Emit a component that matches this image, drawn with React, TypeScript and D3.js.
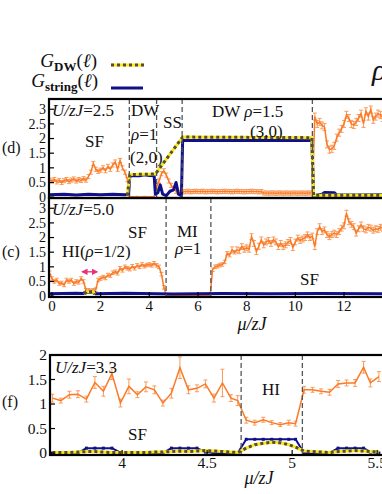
import * as d3 from 'd3';
import { useEffect, useRef } from 'react';

const W = 382;
const H = 494;
const FONT = '"Liberation Serif", "Times New Roman", serif';
const ORANGE = '#fb7a26';
const ORANGE_ERR = '#f99a5a';
const NAVY = '#10108a';
const YELLOW = '#f4ec1a';
const BROWN = '#5e4a2a';

// panels (d) and (c) share one mu grid: mu = -0.1, 0.0, 0.1 ... 13.6
const gridStart = -0.1;
const gridStep = 0.1;

const orangeD = [
  // -0.1 .. 0.9
  0.58, 0.55, 0.6, 0.52, 0.57, 0.5, 0.56, 0.6, 0.53, 0.58, 0.62,
  // 1.0 .. 1.9
  0.55, 0.6, 0.57, 0.63, 0.58, 0.7, 0.85, 1.15, 0.95, 0.88,
  // 2.0 .. 2.9
  0.92, 1.0, 0.9, 1.05, 0.95, 1.1, 1.2, 0.95, 1.25, 1.0,
  // 3.0 .. 3.9
  0.85, 0.6, 0.02, 0.01, 0.01, 0.02, 0.01, 0.01, 0.02, 0.01,
  // 4.0 .. 4.9
  0.01, 0.01, 0.02, 0.35, 0.55, 0.8, 0.9, 0.75, 0.55, 0.4,
  // 5.0 .. 5.9
  0.3, 0.2, 0.15, 0.15, 0.18, 0.19, 0.2, 0.18, 0.19, 0.2,
  // 6.0 .. 6.9
  0.19, 0.19, 0.2, 0.18, 0.19, 0.19, 0.2, 0.19, 0.18, 0.19,
  // 7.0 .. 7.9
  0.19, 0.2, 0.19, 0.19, 0.18, 0.19, 0.2, 0.19, 0.19, 0.18,
  // 8.0 .. 8.9
  0.19, 0.19, 0.2, 0.19, 0.19, 0.18, 0.19, 0.14, 0.14, 0.13,
  // 9.0 .. 9.9
  0.14, 0.14, 0.13, 0.14, 0.14, 0.13, 0.14, 0.14, 0.13, 0.14,
  // 10.0 .. 10.9
  0.14, 0.13, 0.14, 0.14, 0.13, 0.14, 0.14, 0.14, 2.75, 2.5,
  // 11.0 .. 11.9
  2.57, 2.45, 2.39, 1.8, 1.62, 1.65, 1.75, 2.03, 2.2, 2.33,
  // 12.0 .. 12.9
  2.5, 2.81, 2.7, 2.5, 2.46, 2.57, 2.7, 2.85, 2.5, 2.93,
  // 13.0 .. 13.6
  2.75, 2.99, 2.64, 2.75, 2.85, 2.8, 2.7,
];

const orangeC = [
  // -0.1 .. 0.9
  0.8, 0.6, 0.5, 0.55, 0.43, 0.45, 0.38, 0.55, 0.5, 0.55, 0.43,
  // 1.0 .. 1.9
  0.5, 0.47, 0.6, 0.5, 0.2, 0.2, 0.18, 0.2, 0.22, 0.55,
  // 2.0 .. 2.9
  0.6, 0.65, 0.62, 0.72, 0.7, 0.8, 0.83, 0.78, 0.95, 0.88,
  // 3.0 .. 3.9
  1.0, 0.95, 0.92, 1.02, 0.95, 1.05, 1.0, 1.08, 1.02, 1.06,
  // 4.0 .. 4.9
  1.08, 1.05, 1.12, 1.05, 1.0, 0.75, 0.3, 0.01, 0.01, 0.01,
  // 5.0 .. 5.9
  0.01, 0.01, 0.01, 0.01, 0.01, 0.01, 0.01, 0.01, 0.01, 0.01,
  // 6.0 .. 6.9
  0.01, 0.01, 0.01, 0.01, 0.01, 0.01, 0.9, 1.0, 1.02, 1.06,
  // 7.0 .. 7.9
  1.08, 1.17, 1.46, 1.4, 1.58, 1.5, 1.58, 1.55, 1.69, 1.6,
  // 8.0 .. 8.9
  1.65, 1.6, 2.03, 1.8, 1.52, 1.7, 1.92, 1.75, 1.85, 1.9,
  // 9.0 .. 9.9
  1.8, 1.92, 1.85, 1.69, 1.8, 1.69, 1.75, 1.83, 1.9, 1.66,
  // 10.0 .. 10.9
  1.85, 1.98, 1.9, 1.95, 2.0, 2.09, 2.0, 2.05, 1.69, 2.2,
  // 11.0 .. 11.9
  2.37, 2.2, 2.26, 2.1, 2.03, 2.1, 2.15, 2.1, 2.2, 2.32,
  // 12.0 .. 12.9
  2.4, 2.83, 2.54, 2.45, 2.37, 2.15, 2.3, 2.43, 2.3, 2.26,
  // 13.0 .. 13.6
  2.35, 2.32, 2.25, 2.3, 2.28, 2.35, 2.3,
];

// [mu, value]
const blueD: [number, number][] = [
  [-0.12, 0.08], [0.5, 0.1], [1, 0.07], [1.5, 0.1], [2, 0.08], [2.5, 0.1], [3.0, 0.08], [3.15, 0.1],
  [3.2, 0.72], [3.4, 0.74], [3.6, 0.73], [3.8, 0.76], [4.0, 0.74], [4.2, 0.73],
  [4.25, 0.1], [4.35, 0.15], [4.45, 0.42], [4.55, 0.1], [4.7, 0.05], [4.85, 0.2], [5.0, 0.25],
  [5.1, 0.5], [5.2, 0.1], [5.32, 0.05], [5.37, 1.93], [6, 1.93], [7, 1.94], [8, 1.93], [9, 1.93],
  [10, 1.94], [10.68, 1.93], [10.75, 0.05], [11.1, 0.1], [11.2, 0.16], [11.6, 0.15], [11.7, 0.08],
  [12.5, 0.07], [13.6, 0.08],
];
const yellowD: [number, number][] = [
  [3.1, 0.06], [3.2, 0.77], [4.25, 0.79], [5.37, 2.05], [10.68, 2.03], [10.75, 0.06], [13.6, 0.06],
];
const blueC: [number, number][] = [
  [-0.12, 0.08], [1.0, 0.1], [1.3, 0.09], [1.35, 0.13], [1.75, 0.13], [1.8, 0.08], [3, 0.1],
  [5, 0.07], [7, 0.09], [9, 0.08], [11, 0.09], [13.6, 0.08],
];
const yellowC: [number, number][] = [[1.35, 0.06], [1.4, 0.15], [1.7, 0.15], [1.75, 0.06]];

const muF = [
  3.59, 3.64, 3.69, 3.74, 3.79, 3.84, 3.89, 3.94, 3.99, 4.04,
  4.09, 4.14, 4.19, 4.24, 4.29, 4.34, 4.39, 4.44, 4.49, 4.54,
  4.59, 4.64, 4.68, 4.73, 4.78, 4.83, 4.88, 4.93, 4.98, 5.02,
  5.07, 5.12, 5.17, 5.22, 5.27, 5.32, 5.37, 5.42, 5.46, 5.51,
];
const orangeF = [
  1.12, 1.07, 1.19, 1.2, 1.1, 1.44, 1.26, 1.62, 1.02, 1.36,
  1.19, 1.35, 1.29, 1.02, 1.22, 1.74, 1.29, 1.32, 1.41, 1.12,
  1.43, 1.12, 1.07, 0.67, 0.62, 0.68, 0.62, 0.58, 0.62, 0.6,
  1.29, 1.29, 1.26, 1.24, 1.41, 1.43, 1.43, 1.75, 1.43, 1.56,
];
const errF = [
  0.08, 0.05, 0.07, 0.07, 0.06, 0.12, 0.1, 0.12, 0.08, 0.15,
  0.06, 0.1, 0.08, 0.06, 0.1, 0.22, 0.08, 0.07, 0.08, 0.08,
  0.28, 0.07, 0.1, 0.06, 0.05, 0.05, 0.04, 0.04, 0.05, 0.05,
  0.07, 0.05, 0.05, 0.06, 0.07, 0.06, 0.07, 0.12, 0.08, 0.1,
];
const blueF = [
  0, 0, 0, 0, 0.1, 0.1, 0.1, 0.1, 0.01, 0,
  0, 0, 0, 0, 0.1, 0.1, 0.1, 0.1, 0.02, 0,
  0, 0, 0, 0.28, 0.28, 0.28, 0.28, 0.28, 0.28, 0.28,
  0, 0, 0, 0, 0.1, 0.1, 0.1, 0.1, 0.02, 0,
];
const yellowF = [
  0.01, 0.01, 0.01, 0.02, 0.03, 0.03, 0.02, 0.01, 0.01, 0.01,
  0.01, 0.01, 0.02, 0.02, 0.03, 0.04, 0.03, 0.04, 0.05, 0.04,
  0.03, 0.02, 0.01, 0.1, 0.17, 0.2, 0.22, 0.21, 0.17, 0.12,
  0.04, 0.03, 0.02, 0.01, 0.03, 0.04, 0.05, 0.04, 0.03, 0.02,
];

const boundsD = [3.18, 4.3, 5.35, 10.7];
const boundsC = [4.69, 6.53];
const boundsF = [4.7, 5.06];
const yTicksDC = [0, 0.5, 1, 1.5, 2, 2.5, 3];
const yTicksF = [0, 0.5, 1, 1.5, 2];
const xTicksC = [0, 2, 4, 6, 8, 10, 12, 14];
const xTicksF = [4, 4.5, 5, 5.5];

const App = () => {
  const ref = useRef<SVGSVGElement>(null);

  useEffect(() => {
    const svg = d3.select(ref.current);
    svg.selectAll('*').remove();

    const defs = svg.append('defs');
    defs
      .append('marker')
      .attr('id', 'pinkhead')
      .attr('viewBox', '0 0 10 10')
      .attr('refX', 8)
      .attr('refY', 5)
      .attr('markerWidth', 5)
      .attr('markerHeight', 5)
      .attr('orient', 'auto-start-reverse')
      .append('path')
      .attr('d', 'M0,0L10,5L0,10z')
      .style('fill', '#e8337a');

    const panel = (id: string, left: number, right: number, top: number, bottom: number,
      xDom: [number, number], yDom: [number, number]) => {
      const x = d3.scaleLinear().domain(xDom).range([left, right]);
      const y = d3.scaleLinear().domain(yDom).range([bottom, top]);
      defs.append('clipPath').attr('id', id).append('rect')
        .attr('x', left).attr('y', top).attr('width', right - left).attr('height', bottom - top);
      const g = svg.append('g').attr('clip-path', `url(#${id})`);
      return { x, y, g, left, right, top, bottom };
    };

    const text = (x: number, y: number, size: number, anchor = 'start') =>
      svg.append('text')
        .attr('x', x).attr('y', y)
        .attr('text-anchor', anchor)
        .style('font-family', FONT)
        .style('font-size', `${size}px`)
        .style('fill', '#111');

    const part = (t: any, s: string, italic = false) =>
      t.append('tspan').style('font-style', italic ? 'italic' : 'normal').text(s);

    const drawOrange = (p: any, pts: [number, number, number][]) => {
      const eg = p.g.append('g').style('stroke', ORANGE_ERR).style('stroke-width', 1);
      pts.filter((d) => d[2] > 0.02).forEach((d) => {
        const x = p.x(d[0]);
        eg.append('line').attr('x1', x).attr('x2', x).attr('y1', p.y(d[1] - d[2])).attr('y2', p.y(d[1] + d[2]));
        eg.append('line').attr('x1', x - 2).attr('x2', x + 2).attr('y1', p.y(d[1] + d[2])).attr('y2', p.y(d[1] + d[2]));
        eg.append('line').attr('x1', x - 2).attr('x2', x + 2).attr('y1', p.y(d[1] - d[2])).attr('y2', p.y(d[1] - d[2]));
      });
      const line = d3.line<[number, number, number]>().x((d) => p.x(d[0])).y((d) => p.y(d[1]));
      p.g.append('path').datum(pts).attr('d', line)
        .style('fill', 'none').style('stroke', ORANGE).style('stroke-width', 1.5);
    };

    const drawLine = (p: any, pts: [number, number][], color: string, w: number, dash?: string) => {
      const line = d3.line<[number, number]>().x((d) => p.x(d[0])).y((d) => p.y(d[1]));
      p.g.append('path').datum(pts).attr('d', line)
        .style('fill', 'none').style('stroke', color).style('stroke-width', w)
        .style('stroke-dasharray', dash || null).style('stroke-linejoin', 'round');
    };

    const drawYellow = (p: any, pts: [number, number][]) => {
      drawLine(p, pts, YELLOW, 3);
      drawLine(p, pts, BROWN, 3, '3,3');
    };

    const frame = (p: any, bounds: number[], yTicks: number[], xTicks: number[] | null, yFont: number) => {
      bounds.forEach((b) => {
        svg.append('line')
          .attr('x1', p.x(b)).attr('x2', p.x(b)).attr('y1', p.top).attr('y2', p.bottom)
          .style('stroke', '#555').style('stroke-width', 1.3).style('stroke-dasharray', '5,3');
      });
      svg.append('rect')
        .attr('x', p.left).attr('y', p.top)
        .attr('width', p.right - p.left).attr('height', p.bottom - p.top)
        .style('fill', 'none').style('stroke', '#000').style('stroke-width', 2.2);
      yTicks.forEach((v) => {
        svg.append('line').attr('x1', p.left).attr('x2', p.left + 5).attr('y1', p.y(v)).attr('y2', p.y(v))
          .style('stroke', '#000').style('stroke-width', 1.2);
        text(p.left - 3, p.y(v), yFont, 'end').attr('dy', '0.35em').text(String(v));
      });
      if (xTicks) {
        xTicks.forEach((v) => {
          svg.append('line').attr('x1', p.x(v)).attr('x2', p.x(v)).attr('y1', p.bottom).attr('y2', p.bottom - 5)
            .style('stroke', '#000').style('stroke-width', 1.2);
        });
      }
    };

    // ---------- panel (d) ----------
    const pd = panel('clipD', 49, 400, 99, 198, [-0.12, 14.3], [-0.03, 3.35]);
    drawOrange(pd, orangeD.map((v, i) => [gridStart + i * gridStep, v, v > 0.1 ? (v > 1.5 ? 0.12 : 0.07) : 0]));
    drawLine(pd, blueD, NAVY, 3);
    drawYellow(pd, yellowD);
    frame(pd, boundsD, yTicksDC, null, 14);

    // ---------- panel (c) ----------
    const pc = panel('clipC', 49, 400, 198, 297, [-0.12, 14.3], [-0.03, 3.35]);
    drawOrange(pc, orangeC.map((v, i) => [gridStart + i * gridStep, v, v > 0.1 ? (v > 1.5 ? 0.1 : 0.06) : 0]));
    drawLine(pc, blueC, NAVY, 3);
    drawYellow(pc, yellowC);
    frame(pc, boundsC, yTicksDC, xTicksC, 14);
    xTicksC.forEach((v) => text(pc.x(v), 311, 15, 'middle').text(String(v)));
    svg.append('line')
      .attr('x1', pc.x(1.25)).attr('x2', pc.x(1.85)).attr('y1', pc.y(0.83)).attr('y2', pc.y(0.83))
      .style('stroke', '#e8337a').style('stroke-width', 1.3)
      .attr('marker-start', 'url(#pinkhead)').attr('marker-end', 'url(#pinkhead)');

    // ---------- panel (f) ----------
    const pf = panel('clipF', 50, 401, 355, 455, [3.576, 5.64], [-0.04, 2.0]);
    drawOrange(pf, muF.map((m, i) => [m, orangeF[i], errF[i]]));
    const blueFPts: [number, number][] = muF.map((m, i) => [m, blueF[i]]);
    drawLine(pf, blueFPts, NAVY, 2);
    pf.g.append('g').selectAll('rect').data(blueFPts).enter().append('rect')
      .attr('x', (d) => pf.x(d[0]) - 1.5).attr('y', (d) => pf.y(d[1]) - 1.5)
      .attr('width', 3).attr('height', 3).style('fill', NAVY);
    drawYellow(pf, muF.map((m, i) => [m, yellowF[i]]));
    frame(pf, boundsF, yTicksF, xTicksF, 15.5);
    xTicksF.forEach((v) => text(pf.x(v), 468, 15.5, 'middle').text(String(v)));

    // ---------- axis titles ----------
    const xl1 = text(252, 330, 18, 'middle');
    part(xl1, 'μ/zJ', true);
    const xl2 = text(259, 484, 18, 'middle');
    part(xl2, 'μ/zJ', true);

    // ---------- panel tags ----------
    text(2, 153, 16).text('(d)');
    text(2, 257, 16).text('(c)');
    text(2, 407, 16).text('(f)');

    // ---------- annotations (d) ----------
    const ud = text(52, 116, 17);
    part(ud, 'U/zJ', true); part(ud, '=2.5');
    text(85, 147, 17).text('SF');
    text(131, 116, 17).text('DW');
    const r1 = text(131, 140, 17);
    part(r1, 'ρ', true); part(r1, '=1');
    text(130, 163, 17).text('(2,0)');
    text(163, 128, 17).text('SS');
    const dw = text(212, 117, 17);
    part(dw, 'DW '); part(dw, 'ρ', true); part(dw, '=1.5');
    text(250, 137, 17).text('(3,0)');

    // ---------- annotations (c) ----------
    const uc = text(52, 215, 17);
    part(uc, 'U/zJ', true); part(uc, '=5.0');
    text(128, 238, 17).text('SF');
    text(177, 237, 17).text('MI');
    const r2 = text(175, 254, 17);
    part(r2, 'ρ', true); part(r2, '=1');
    const hi = text(62, 257, 17);
    part(hi, 'HI('); part(hi, 'ρ', true); part(hi, '=1/2)');
    text(300, 285, 17).text('SF');

    // ---------- annotations (f) ----------
    const uf = text(55, 373, 17);
    part(uf, 'U/zJ', true); part(uf, '=3.3');
    text(128, 440, 17).text('SF');
    text(262, 395, 17).text('HI');

    // ---------- legend ----------
    const l1 = text(97, 67, 19, 'end');
    part(l1, 'G', true);
    l1.append('tspan').attr('dy', 4).style('font-size', '13px').style('font-weight', 'bold').text('DW');
    l1.append('tspan').attr('dy', -4).text('(');
    part(l1, 'ℓ', true);
    part(l1, ')');
    const l2 = text(98, 87, 19, 'end');
    part(l2, 'G', true);
    l2.append('tspan').attr('dy', 4).style('font-size', '13px').style('font-weight', 'bold').text('string');
    l2.append('tspan').attr('dy', -4).text('(');
    part(l2, 'ℓ', true);
    part(l2, ')');
    svg.append('line').attr('x1', 111).attr('x2', 144).attr('y1', 65).attr('y2', 65)
      .style('stroke', YELLOW).style('stroke-width', 3);
    svg.append('line').attr('x1', 111).attr('x2', 144).attr('y1', 65).attr('y2', 65)
      .style('stroke', BROWN).style('stroke-width', 3).style('stroke-dasharray', '3,3');
    svg.append('line').attr('x1', 111).attr('x2', 143).attr('y1', 88).attr('y2', 88)
      .style('stroke', NAVY).style('stroke-width', 3);

    const rho = text(372, 80, 30);
    part(rho, 'ρ', true);
  }, []);

  return (
    <svg
      ref={ref}
      width={W}
      height={H}
      style={{ position: 'absolute', left: 0, top: 0, background: '#fff' }}
    />
  );
};

export default App;
